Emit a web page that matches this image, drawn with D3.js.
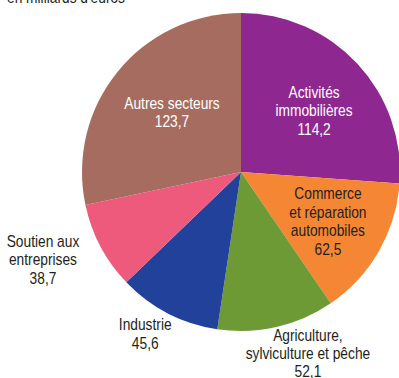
<!DOCTYPE html>
<html>
<head>
<meta charset="utf-8">
<script src="https://cdn.jsdelivr.net/npm/d3@7"></script>
<style>
    body { margin: 0; background: #fff; }
    text { font-family: "Liberation Sans", Arial, sans-serif; font-size: 16px; }
</style>
</head>
<body>
<div id="vis"></div>
<script>
// data
var categories = ['Activités immobilières', 'Commerce et réparation automobiles',
    'Agriculture, sylviculture et pêche', 'Industrie', 'Soutien aux entreprises', 'Autres secteurs'];
var values = [114.2, 62.5, 52.1, 45.6, 38.7, 123.7];
var labelLines = [
    ['Activités', 'immobilières'],
    ['Commerce', 'et réparation', 'automobiles'],
    ['Agriculture,', 'sylviculture et pêche'],
    ['Industrie'],
    ['Soutien aux', 'entreprises'],
    ['Autres secteurs']
];
var unitLabel = "en milliards d'euros";

// styles
var colors = ['#8e278f', '#f58634', '#6e9a35', '#21419a', '#ee5a7c', '#a56c5f'];
var textColors = ['#fff', '#231f20', '#231f20', '#231f20', '#231f20', '#fff'];
// label placement: radius factor and angle shift (degrees)
var labelPlace = [[0.613, 1.5], [0.619, -1.9], [1.196, -7.7], [1.164, 3.8], [1.354, 4.8], [0.587, 3.3]];

var width = 399, height = 378;
var cx = 241, cy = 172, radius = 159;
var lineH = 18.5;
var squeeze = 0.86;   // condensed look

var svg = d3.select('#vis').append('svg')
    .attr('width', width)
    .attr('height', height);

svg.append('text')
    .attr('transform', 'translate(7,3) scale(' + squeeze + ',1)')
    .attr('fill', '#231f20')
    .text(unitLabel);

var pie = d3.pie().sort(null).value(function(d) { return d; });
var arcs = pie(values);
var arc = d3.arc().innerRadius(0).outerRadius(radius);

var g = svg.append('g').attr('transform', 'translate(' + cx + ',' + cy + ')');

g.selectAll('path')
    .data(arcs)
    .enter()
    .append('path')
    .attr('d', arc)
    .attr('fill', function(d, i) { return colors[i]; });

var fmt = function(v) { return d3.format('.1f')(v).replace('.', ','); };

arcs.forEach(function(a, i)
{
    var mid = (a.startAngle + a.endAngle) / 2 + labelPlace[i][1] * Math.PI / 180;
    var r = radius * labelPlace[i][0];
    var x = r * Math.sin(mid);
    var y = -r * Math.cos(mid);
    var lines = labelLines[i].concat([fmt(values[i])]);
    var y0 = y - (lines.length - 1) * lineH / 2 + 9;
    var t = g.append('text')
        .attr('transform', 'translate(' + x + ',' + y0 + ') scale(' + squeeze + ',1)')
        .attr('text-anchor', 'middle')
        .attr('fill', textColors[i]);
    lines.forEach(function(l, j)
    {
        t.append('tspan')
            .attr('x', 0)
            .attr('y', j * lineH)
            .text(l);
    });
});
</script>
</body>
</html>
